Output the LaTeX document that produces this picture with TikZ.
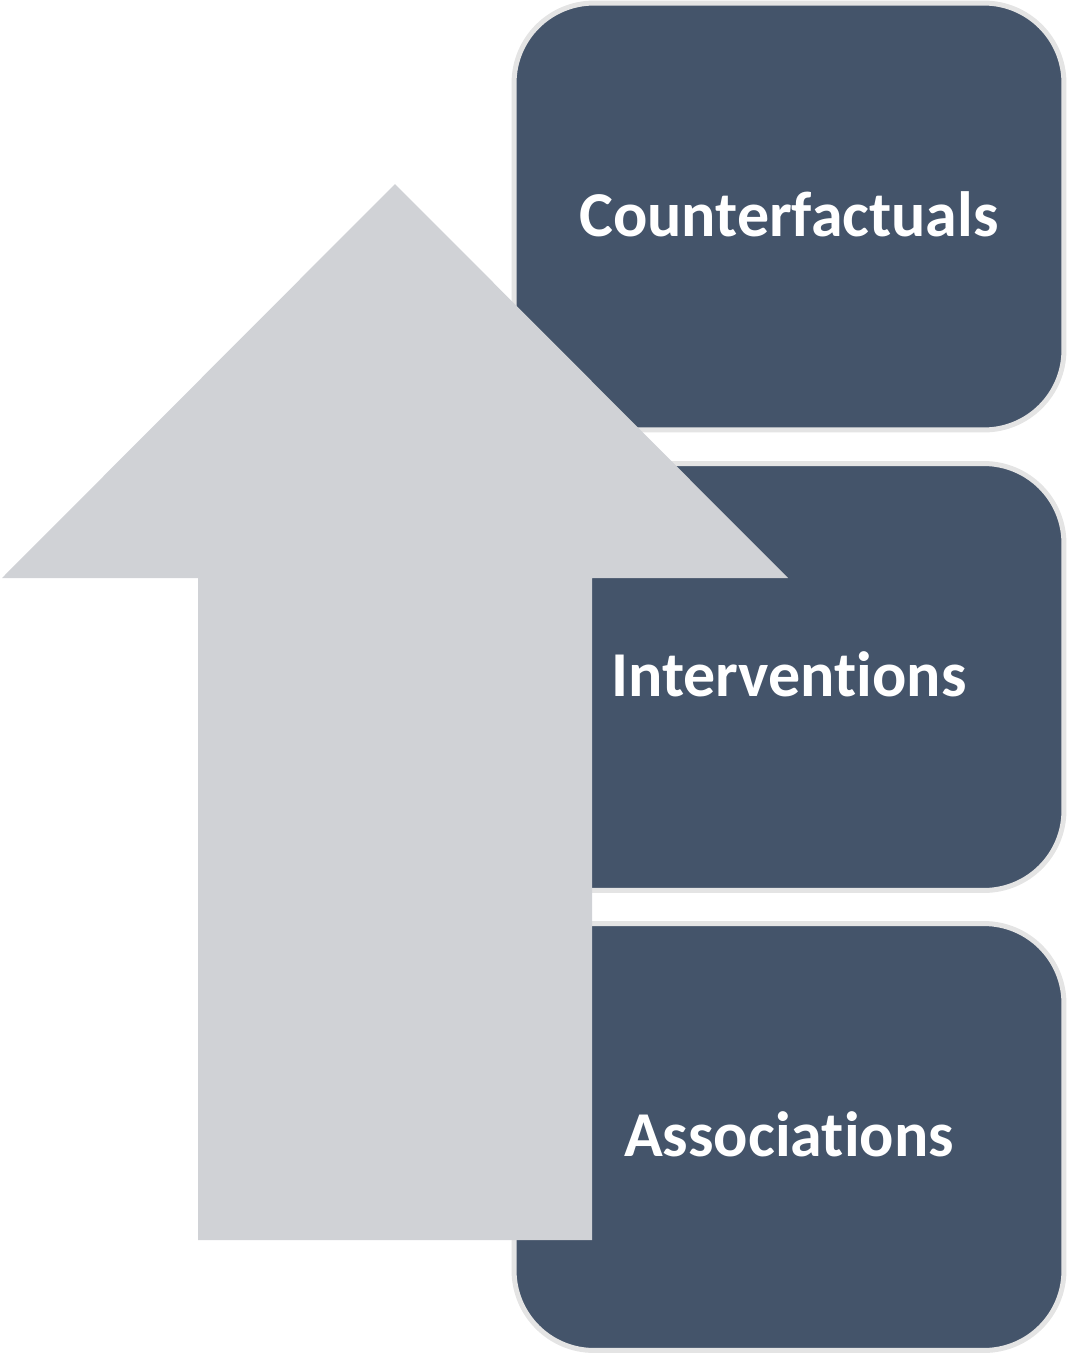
\documentclass[tikz,border=0pt]{standalone}
\usepackage{fontspec}
\setmainfont[Ligatures=NoCommon]{Carlito}
\usepackage{xcolor}
\usetikzlibrary{shapes.geometric}

\definecolor{slate}{HTML}{44546A}
\definecolor{rim}{HTML}{E4E4E4}
\definecolor{arrowgrey}{HTML}{D0D2D6}

\tikzset{
    rung/.style={draw=rim, line width=0.1cm, fill=slate, rounded corners=1.6cm,
        minimum width=11cm, minimum height=8.54cm, inner sep=0pt,
        text=white, font=\fontsize{36.4}{42}\selectfont\bfseries}
}

\begin{document}
\begin{tikzpicture}[x=0.02cm, y=-0.02cm]
    \useasboundingbox (0, 0) rectangle (1067, 1356);
    \path (789, 216.5) node [rung] (cf) {\raisebox{3pt}{Counterfactuals}};
    \path (789, 677) node [rung] (iv) {\raisebox{3pt}{Interventions}};
    \path (789, 1137) node [rung] (as) {\raisebox{3pt}{Associations}};
    % ladder arrow on top
    \fill [arrowgrey] (395, 184) -- (788, 578) -- (592, 578) -- (592, 1240)
        -- (198, 1240) -- (198, 578) -- (2, 578) -- cycle;
\end{tikzpicture}
\end{document}
